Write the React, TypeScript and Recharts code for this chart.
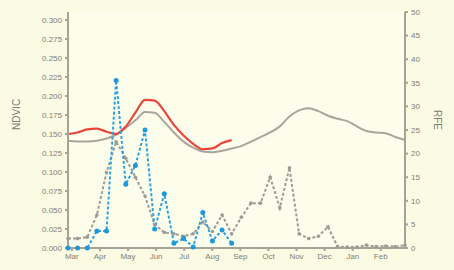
import {
  ComposedChart,
  Line,
  XAxis,
  YAxis,
  CartesianGrid,
} from 'recharts';

const months = ['Mar', 'Apr', 'May', 'Jun', 'Jul', 'Aug', 'Sep', 'Oct', 'Nov', 'Dec', 'Jan', 'Feb'];

// dekadal values, Mar dekad 1 .. Feb dekad 3
const ndviCurrent = [
  0.150, 0.152, 0.156, 0.157, 0.153, 0.150, 0.160, 0.178, 0.195, 0.194,
  0.180, 0.162, 0.148, 0.137, 0.130, 0.131, 0.138, 0.142,
];
const ndviMean = [
  0.141, 0.140, 0.140, 0.141, 0.144, 0.149, 0.158, 0.168, 0.179, 0.178,
  0.166, 0.152, 0.140, 0.132, 0.127, 0.126, 0.128, 0.131, 0.134, 0.140,
  0.146, 0.152, 0.160, 0.173, 0.181, 0.184, 0.180, 0.174, 0.170, 0.167,
  0.160, 0.154, 0.152, 0.151, 0.146, 0.142,
];
const rfeCurrent = [
  0, 0, 0, 3.6, 3.6, 35.5, 13.5, 17.5, 25, 4,
  11.5, 1, 2, 0.2, 7.5, 1.5, 3.8, 1,
];
const rfeMean = [
  2, 2, 2.3, 7, 16, 22.5, 19, 15, 11, 5,
  3.3, 3, 2.5, 3, 5.5, 3.5, 7, 3, 6.5, 9.5,
  9.5, 15, 8.5, 17, 3, 2, 2.5, 4.5, 0.3, 0.2,
  0.2, 0.6, 0.3, 0.4, 0.3, 0.6,
];

const ndviTicks = [0, 0.025, 0.05, 0.075, 0.1, 0.125, 0.15, 0.175, 0.2, 0.225, 0.25, 0.275, 0.3];
const rfeTicks = [0, 5, 10, 15, 20, 25, 30, 35, 40, 45, 50];

const chartData = ndviMean.map((v, i) => ({
  i,
  ndviCurrent: ndviCurrent[i],
  ndviMean: v,
  rfeCurrent: rfeCurrent[i],
  rfeMean: rfeMean[i],
}));

const monthTicks = months.map((_, k) => k * (35 / 12) + 0.4);

const tickStyle = { fontSize: 8, fill: '#7d7d74', fontFamily: 'Liberation Sans, Arial, sans-serif' };

export default function App() {
  return (
    <div style={{ position: 'absolute', left: 0, top: 0, width: 454, height: 270, background: '#fbfbe4' }}>
      <ComposedChart
        width={454}
        height={270}
        data={chartData}
        margin={{ top: 12, right: 0, bottom: 0, left: 0 }}
      >
        <rect x={68} y={12} width={337} height={236} fill="#fdfdec" />
        <CartesianGrid vertical horizontal={false} stroke="#f1efd6" strokeWidth={2} />
        <XAxis
          dataKey="i"
          type="number"
          domain={[0, 35]}
          ticks={monthTicks}
          tickFormatter={(_, k) => months[k]}
          interval={0}
          height={22}
          stroke="#a5a397"
          strokeWidth={2}
          tickSize={3}
          tickMargin={2}
          tick={tickStyle}
        />
        <XAxis
          xAxisId="top"
          orientation="top"
          dataKey="i"
          type="number"
          domain={[0, 35]}
          height={0}
          tick={false}
          tickLine={false}
          stroke="#e6e3c6"
          strokeWidth={2}
        />
        <YAxis
          yAxisId="ndvi"
          domain={[0, 0.3105]}
          ticks={ndviTicks}
          tickFormatter={(v) => v.toFixed(3)}
          width={68}
          stroke="#a5a397"
          strokeWidth={2}
          tickSize={3}
          tickMargin={3}
          tick={tickStyle}
          label={{ value: 'NDVIC', angle: -90, position: 'insideLeft', offset: 16, style: { ...tickStyle, fontSize: 10 } }}
        />
        <YAxis
          yAxisId="rfe"
          orientation="right"
          domain={[0, 50]}
          ticks={rfeTicks}
          width={49}
          stroke="#a5a397"
          strokeWidth={2}
          tickSize={3}
          tickMargin={3}
          tick={tickStyle}
          label={{ value: 'RFE', angle: 90, position: 'insideRight', offset: 16, style: { ...tickStyle, fontSize: 10 } }}
        />
        <Line
          yAxisId="ndvi"
          dataKey="ndviMean"
          type="monotone"
          stroke="#aaa59c"
          strokeWidth={2}
          dot={false}
          isAnimationActive={false}
        />
        <Line
          yAxisId="ndvi"
          dataKey="ndviCurrent"
          type="monotone"
          stroke="#e8463a"
          strokeWidth={2.2}
          dot={false}
          isAnimationActive={false}
        />
        <Line
          yAxisId="rfe"
          dataKey="rfeMean"
          stroke="#9f9b94"
          strokeWidth={2}
          strokeDasharray="3 2"
          dot={{ r: 1.8, fill: '#9f9b94', stroke: 'none' }}
          isAnimationActive={false}
        />
        <Line
          yAxisId="rfe"
          dataKey="rfeCurrent"
          stroke="#2ba3e0"
          strokeWidth={2}
          strokeDasharray="3 2"
          dot={{ r: 2.5, fill: '#1f98d8', stroke: 'none' }}
          isAnimationActive={false}
        />
      </ComposedChart>
    </div>
  );
}
